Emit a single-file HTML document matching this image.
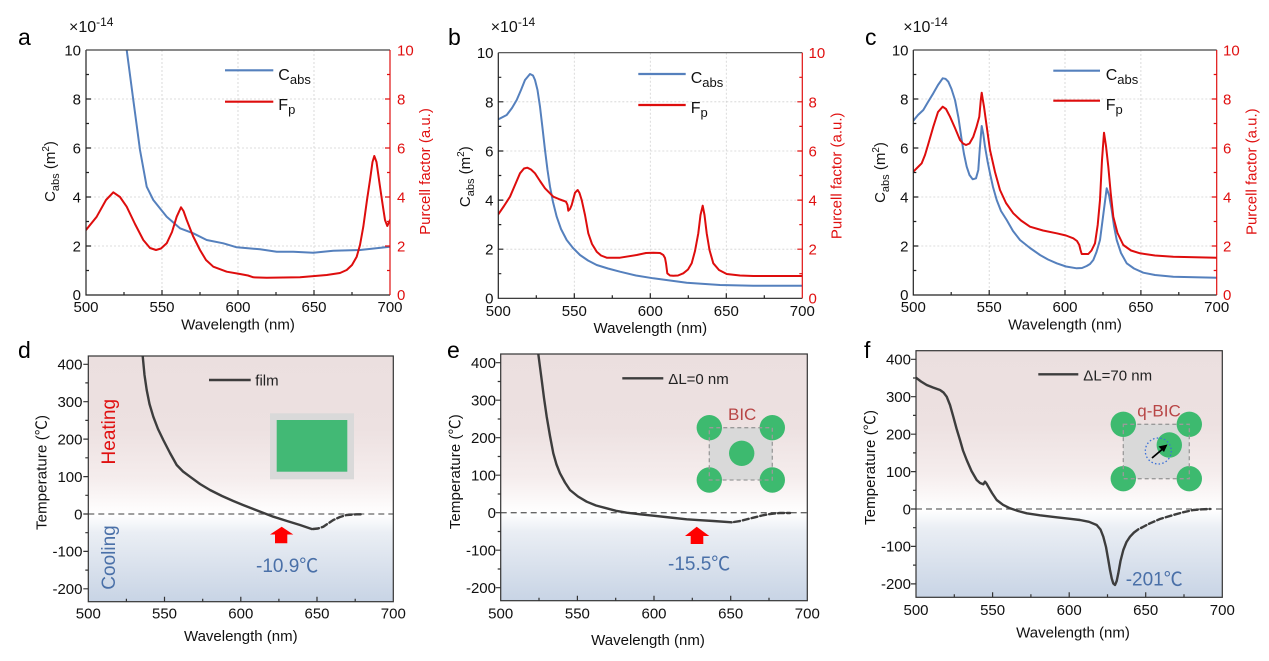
<!DOCTYPE html>
<html><head><meta charset="utf-8"><style>
html,body{margin:0;padding:0;background:#fff;}
svg{display:block;font-family:"Liberation Sans","Noto Sans CJK SC",sans-serif;}
</style></head><body>
<svg width="1269" height="661" viewBox="0 0 1269 661" xmlns="http://www.w3.org/2000/svg">
<defs>
<linearGradient id="bg" x1="0" y1="0" x2="0" y2="1">
<stop offset="0" stop-color="#ebdfdf"/>
<stop offset="0.3" stop-color="#ede1e1"/>
<stop offset="0.5" stop-color="#f5eded"/>
<stop offset="0.63" stop-color="#fefdfd"/>
<stop offset="0.645" stop-color="#ffffff"/>
<stop offset="0.72" stop-color="#eaeef4"/>
<stop offset="1" stop-color="#c8d4e5"/>
</linearGradient>
<clipPath id="ca"><rect x="86" y="50" width="304" height="245"/></clipPath>
<clipPath id="cb"><rect x="498.3" y="52.7" width="304" height="245.6"/></clipPath>
<clipPath id="cc"><rect x="913.3" y="50" width="303.4" height="245"/></clipPath>
<clipPath id="cd"><rect x="88.3" y="356" width="305" height="245.7"/></clipPath>
<clipPath id="ce"><rect x="500.7" y="354" width="306.6" height="246.7"/></clipPath>
<clipPath id="cf"><rect x="916" y="350.7" width="306.3" height="246.6"/></clipPath>
</defs>

<!-- ================= PANEL A ================= -->
<g stroke="#d2d2d2" stroke-width="0.8" stroke-dasharray="2,2" fill="none">
<path d="M162 50V295M238 50V295M314 50V295M86 246H390M86 197H390M86 148H390M86 99H390"/>
</g>
<g fill="none" stroke-linejoin="round" stroke-linecap="round" clip-path="url(#ca)">
<polyline stroke="#5580bd" stroke-width="2" points="126.7,50 133.3,100 140,150 146.7,186.7 153.3,200 166.7,216.7 180,228.3 193.3,233.3 206.7,240 223.3,243.3 236.7,247.3 260,249.3 276.7,251.7 293.3,251.7 313.3,252.7 333.3,250.7 360,250 390,246.7"/>
<polyline stroke="#de0d0d" stroke-width="2" points="86,230 96.7,216.7 106,200 113.3,192.3 120,197 126.7,206.7 135,224 143.3,240 150,248 156,250 161,248.5 166.7,243.3 172,232 176.7,216.7 181,207.3 183.5,211 186.7,220 193,236 200,250 206,260 213.3,266.7 226.7,271.7 240,274 248,275.5 253.3,277.3 266.7,277.7 300,277.3 326.7,275 340,273 346.7,270 352,265 356.7,256.7 360,245 363.3,226.7 367,200 370,180 372.5,162 374.3,156 376.5,162 380,186.7 383,207 385,220 387.3,226 390,220"/>
</g>
<g stroke="#222" stroke-width="1.2" fill="none">
<path d="M86 50V295H390"/>
<path d="M86 50H390" stroke="#444"/>
<path d="M86 246h5M86 197h5M86 148h5M86 99h5M86 270.5h3M86 221.5h3M86 172.5h3M86 123.5h3M86 74.5h3"/>
<path d="M162 295v-5M238 295v-5M314 295v-5M124 295v-3M200 295v-3M276 295v-3M352 295v-3"/>
</g>
<g stroke="#e01010" stroke-width="1.2" fill="none">
<path d="M390 50V295"/>
<path d="M390 246h-5M390 197h-5M390 148h-5M390 99h-5M390 270.5h-3M390 221.5h-3M390 172.5h-3M390 123.5h-3M390 74.5h-3"/>
</g>
<g font-size="15" fill="#111" text-anchor="end">
<text x="81" y="55.5">10</text><text x="81" y="104.5">8</text><text x="81" y="153.5">6</text><text x="81" y="202.5">4</text><text x="81" y="251.5">2</text><text x="81" y="300">0</text>
</g>
<g font-size="15" fill="#e01010">
<text x="397" y="55.5">10</text><text x="397" y="104.5">8</text><text x="397" y="153.5">6</text><text x="397" y="202.5">4</text><text x="397" y="251.5">2</text><text x="397" y="300">0</text>
</g>
<g font-size="15" fill="#111" text-anchor="middle">
<text x="86" y="312">500</text><text x="162" y="312">550</text><text x="238" y="312">600</text><text x="314" y="312">650</text><text x="390" y="312">700</text>
<text x="238" y="329.5">Wavelength (nm)</text>
</g>
<text x="69" y="32" font-size="16" fill="#111">×10<tspan font-size="12" dy="-6">-14</tspan></text>
<text x="18" y="45" font-size="23" fill="#000">a</text>
<text transform="translate(55,171.5) rotate(-90)" font-size="15" fill="#111" text-anchor="middle">C<tspan font-size="11" dy="4">abs</tspan><tspan dy="-4"> (m</tspan><tspan font-size="10" dy="-6">2</tspan><tspan dy="6">)</tspan></text>
<text transform="translate(430,171.5) rotate(-90)" font-size="15" fill="#e01010" text-anchor="middle">Purcell factor (a.u.)</text>
<path d="M225 70.3H273.3" stroke="#5580bd" stroke-width="2.2"/>
<path d="M225 101.7H273.3" stroke="#de0d0d" stroke-width="2.2"/>
<text x="278.3" y="80" font-size="16" fill="#111">C<tspan font-size="13" dy="4">abs</tspan></text>
<text x="278.3" y="110" font-size="16" fill="#111">F<tspan font-size="13" dy="4">p</tspan></text>

<!-- ================= PANEL B ================= -->
<g stroke="#d2d2d2" stroke-width="0.8" stroke-dasharray="2,2" fill="none">
<path d="M574.3 52.7V298.3M650.3 52.7V298.3M726.3 52.7V298.3M498.3 249.2H802.3M498.3 200.1H802.3M498.3 151H802.3M498.3 101.8H802.3"/>
</g>
<g fill="none" stroke-linejoin="round" stroke-linecap="round" clip-path="url(#cb)">
<polyline stroke="#5580bd" stroke-width="2" points="498.3,119.3 506.7,115 512,108 516.7,100 521,90 525,80 530,74 533,75.5 535,80 537.5,90 540,106.7 542.5,128 545,150 547.5,170 550,186.7 553,202 556.7,216.7 561,229 566.7,240 573,248 580,255 588,260.5 596.7,265 608,268.5 620,271.7 636,275.5 653.3,278.3 686.7,282.7 720,285 753.3,285.7 802.3,285.7"/>
<polyline stroke="#de0d0d" stroke-width="2" points="498.3,214.3 504,206 510,196.7 515,185 520,173.3 524,168.5 527.3,167.7 531,169.5 535,173.3 540,181 545,188.3 553.3,196.7 560,199.5 566,201.7 567.5,205 568.3,210.7 570,209 571.7,205 575,192.7 577.7,190 579.5,193 581.7,200 585,215 588.3,233.3 592,244 596.7,251.7 601,255.5 606.7,257.7 620,257.7 636.7,255 646,253 653.3,252.7 660,253 663.3,255 665,258 666,263.3 667.3,273.3 670,275.5 673.3,275.7 678,275.5 683.3,273.3 688,269.5 691.7,263.3 695,251 698.3,233.3 700.5,215 702.7,205.7 704.5,215 706.7,233.3 709.5,250 713.3,263.3 719,270 726.7,274 740,275.5 753.3,276 802.3,276"/>
</g>
<g stroke="#222" stroke-width="1.2" fill="none">
<path d="M498.3 52.7V298.3H802.3"/>
<path d="M498.3 52.7H802.3" stroke="#444"/>
<path d="M498.3 249.2h5M498.3 200.1h5M498.3 151h5M498.3 101.8h5M498.3 273.7h3M498.3 224.6h3M498.3 175.5h3M498.3 126.4h3M498.3 77.3h3"/>
<path d="M574.3 298.3v-5M650.3 298.3v-5M726.3 298.3v-5M536.3 298.3v-3M612.3 298.3v-3M688.3 298.3v-3M764.3 298.3v-3"/>
</g>
<g stroke="#e01010" stroke-width="1.2" fill="none">
<path d="M802.3 52.7V298.3"/>
<path d="M802.3 249.2h-5M802.3 200.1h-5M802.3 151h-5M802.3 101.8h-5M802.3 273.7h-3M802.3 224.6h-3M802.3 175.5h-3M802.3 126.4h-3M802.3 77.3h-3"/>
</g>
<g font-size="15" fill="#111" text-anchor="end">
<text x="493.5" y="58.2">10</text><text x="493.5" y="107.3">8</text><text x="493.5" y="156.4">6</text><text x="493.5" y="205.5">4</text><text x="493.5" y="254.7">2</text><text x="493.5" y="303.3">0</text>
</g>
<g font-size="15" fill="#e01010">
<text x="808.5" y="58.2">10</text><text x="808.5" y="107.3">8</text><text x="808.5" y="156.4">6</text><text x="808.5" y="205.5">4</text><text x="808.5" y="254.7">2</text><text x="808.5" y="303.3">0</text>
</g>
<g font-size="15" fill="#111" text-anchor="middle">
<text x="498.3" y="316">500</text><text x="574.3" y="316">550</text><text x="650.3" y="316">600</text><text x="726.3" y="316">650</text><text x="802.3" y="316">700</text>
<text x="650.3" y="333">Wavelength (nm)</text>
</g>
<text x="490.7" y="32" font-size="16" fill="#111">×10<tspan font-size="12" dy="-6">-14</tspan></text>
<text x="448" y="45" font-size="23" fill="#000">b</text>
<text transform="translate(470,176.7) rotate(-90)" font-size="15" fill="#111" text-anchor="middle">C<tspan font-size="11" dy="4">abs</tspan><tspan dy="-4"> (m</tspan><tspan font-size="10" dy="-6">2</tspan><tspan dy="6">)</tspan></text>
<text transform="translate(841.7,175.8) rotate(-90)" font-size="15" fill="#e01010" text-anchor="middle">Purcell factor (a.u.)</text>
<path d="M638.3 74H685.7" stroke="#5580bd" stroke-width="2.2"/>
<path d="M638.3 105H685.7" stroke="#de0d0d" stroke-width="2.2"/>
<text x="690.7" y="83" font-size="16" fill="#111">C<tspan font-size="13" dy="4">abs</tspan></text>
<text x="690.7" y="113" font-size="16" fill="#111">F<tspan font-size="13" dy="4">p</tspan></text>

<!-- ================= PANEL C ================= -->
<g stroke="#d2d2d2" stroke-width="0.8" stroke-dasharray="2,2" fill="none">
<path d="M989.2 50V295M1065 50V295M1140.9 50V295M913.3 246H1216.7M913.3 197H1216.7M913.3 148H1216.7M913.3 99H1216.7"/>
</g>
<g fill="none" stroke-linejoin="round" stroke-linecap="round" clip-path="url(#cc)">
<polyline stroke="#5580bd" stroke-width="2" points="913.3,120.7 918,115 923.3,110 928,102 933.3,93.3 938,85 942.7,78.3 945.5,78.8 948.3,81.7 951.5,89 955,100 958.5,118 961.7,140 964,154 966.7,166.7 969.5,175 972.7,179.3 976,178.3 978.3,170 979.7,150 981.7,126 983.3,134 985,146.7 987.5,161 990,173.3 993,187 996.7,200 1001,211 1006.7,220 1013,231 1020,240 1030,248 1040,255 1048,259.5 1056.7,263.3 1066,266.5 1076.7,268.3 1082,268 1086.7,266 1090,264 1093.3,260 1096.5,252 1100,240 1103.5,213 1106.7,188.3 1109,195 1111.7,210 1114,226 1116.7,240 1121,253 1126.7,263.3 1134,268.5 1143.3,272.7 1155,275 1173.3,276.7 1216.7,277.7"/>
<polyline stroke="#de0d0d" stroke-width="2" points="913.3,171.7 917,168 921.7,163.3 925,155 928,145 933.3,126.7 938,112 942.7,106.7 946,109 950,116.7 955,128 960,140 963,143.5 966,145 969.5,143.5 973.3,136.7 976.5,127 979.3,116.7 980.8,100 981.7,92.7 982.7,99 984,106.7 986.5,125 990,150 995,172 1000,190 1006,203 1013.3,213.3 1021,220.5 1030,226.7 1043,230.5 1056.7,233.3 1066,235.5 1073.3,238.3 1077,241 1079.3,245 1080.5,250 1081.7,254 1088.3,254 1091.5,250.5 1095,243.3 1097.7,225 1100,200 1102,160 1104,132.7 1106,146 1108.3,166.7 1110.7,193 1113.3,216.7 1117.5,233 1123.3,245 1131,250.5 1140,253.3 1155,255.5 1173.3,256.7 1216.7,257.7"/>
</g>
<g stroke="#222" stroke-width="1.2" fill="none">
<path d="M913.3 50V295H1216.7"/>
<path d="M913.3 50H1216.7" stroke="#444"/>
<path d="M913.3 246h5M913.3 197h5M913.3 148h5M913.3 99h5M913.3 270.5h3M913.3 221.5h3M913.3 172.5h3M913.3 123.5h3M913.3 74.5h3"/>
<path d="M989.2 295v-5M1065 295v-5M1140.9 295v-5M951.2 295v-3M1027.1 295v-3M1103 295v-3M1178.8 295v-3"/>
</g>
<g stroke="#e01010" stroke-width="1.2" fill="none">
<path d="M1216.7 50V295"/>
<path d="M1216.7 246h-5M1216.7 197h-5M1216.7 148h-5M1216.7 99h-5M1216.7 270.5h-3M1216.7 221.5h-3M1216.7 172.5h-3M1216.7 123.5h-3M1216.7 74.5h-3"/>
</g>
<g font-size="15" fill="#111" text-anchor="end">
<text x="908.5" y="55.5">10</text><text x="908.5" y="104.5">8</text><text x="908.5" y="153.5">6</text><text x="908.5" y="202.5">4</text><text x="908.5" y="251.5">2</text><text x="908.5" y="300">0</text>
</g>
<g font-size="15" fill="#e01010">
<text x="1223" y="55.5">10</text><text x="1223" y="104.5">8</text><text x="1223" y="153.5">6</text><text x="1223" y="202.5">4</text><text x="1223" y="251.5">2</text><text x="1223" y="300">0</text>
</g>
<g font-size="15" fill="#111" text-anchor="middle">
<text x="913.3" y="312">500</text><text x="989.2" y="312">550</text><text x="1065" y="312">600</text><text x="1140.9" y="312">650</text><text x="1216.7" y="312">700</text>
<text x="1065" y="329.5">Wavelength (nm)</text>
</g>
<text x="903.3" y="32" font-size="16" fill="#111">×10<tspan font-size="12" dy="-6">-14</tspan></text>
<text x="865" y="45" font-size="23" fill="#000">c</text>
<text transform="translate(885,172.5) rotate(-90)" font-size="15" fill="#111" text-anchor="middle">C<tspan font-size="11" dy="4">abs</tspan><tspan dy="-4"> (m</tspan><tspan font-size="10" dy="-6">2</tspan><tspan dy="6">)</tspan></text>
<text transform="translate(1256.7,171.7) rotate(-90)" font-size="15" fill="#e01010" text-anchor="middle">Purcell factor (a.u.)</text>
<path d="M1053.3 70.7H1100" stroke="#5580bd" stroke-width="2.2"/>
<path d="M1053.3 100.7H1100" stroke="#de0d0d" stroke-width="2.2"/>
<text x="1105.7" y="80" font-size="16" fill="#111">C<tspan font-size="13" dy="4">abs</tspan></text>
<text x="1105.7" y="110" font-size="16" fill="#111">F<tspan font-size="13" dy="4">p</tspan></text>

<!-- ================= PANEL D ================= -->
<rect x="88.3" y="356" width="305" height="245.7" fill="url(#bg)"/>
<path d="M88.3 514H393.3" stroke="#666" stroke-width="1.3" stroke-dasharray="6,4" fill="none"/>
<rect x="270" y="413.3" width="84" height="66" fill="#d9d9d9"/>
<rect x="276.7" y="420" width="70.6" height="51.7" fill="#42b975"/>
<g fill="none" stroke="#3d3d3d" stroke-width="2.4" stroke-linejoin="round" stroke-linecap="round" clip-path="url(#cd)">
<polyline points="142.7,356 144.5,375 146.7,390 149.5,404 153.3,416.7 158,429 163.3,440 170,453 176.7,465 183,471.5 190,476.7 200,484 210,490 222,496 233.3,501 243,505 253.3,509 263,512.8 273.3,516.7 287,521 300,525 311.7,529"/>
<polyline stroke-dasharray="6,3" points="313,529 318,528.5 323.3,526.7 328,523.5 333.3,520 340,517 346.7,515 356.7,514.3 363.3,514.3"/>
</g>
<g stroke="#333" stroke-width="1.2" fill="none">
<rect x="88.3" y="356" width="305" height="245.7"/>
<path d="M88.3 364.3h-5M88.3 401.7h-5M88.3 439.1h-5M88.3 476.6h-5M88.3 514h-5M88.3 551.4h-5M88.3 588.8h-5M88.3 382.9h-3M88.3 420.4h-3M88.3 457.8h-3M88.3 495.3h-3M88.3 532.7h-3M88.3 570.1h-3"/>
<path d="M164.5 601.7v-5M240.8 601.7v-5M317 601.7v-5M126.4 601.7v-3M202.7 601.7v-3M278.9 601.7v-3M355.2 601.7v-3"/>
</g>
<g font-size="15" fill="#111" text-anchor="end">
<text x="82.5" y="369.6">400</text><text x="82.5" y="407">300</text><text x="82.5" y="444.4">200</text><text x="82.5" y="481.9">100</text><text x="82.5" y="519.3">0</text><text x="82.5" y="556.7">-100</text><text x="82.5" y="594.1">-200</text>
</g>
<g font-size="15" fill="#111" text-anchor="middle">
<text x="88.3" y="618.5">500</text><text x="164.5" y="618.5">550</text><text x="240.8" y="618.5">600</text><text x="317" y="618.5">650</text><text x="393.3" y="618.5">700</text>
<text x="240.8" y="641">Wavelength (nm)</text>
</g>
<text transform="translate(46.7,472.5) rotate(-90)" font-size="15" fill="#111" text-anchor="middle" textLength="115" lengthAdjust="spacing">Temperature (℃)</text>
<text x="18" y="358" font-size="23" fill="#000">d</text>
<path d="M209 380H250.7" stroke="#3d3d3d" stroke-width="2.4"/>
<text x="255.3" y="385.5" font-size="15" fill="#222">film</text>
<text transform="translate(115,431.7) rotate(-90)" font-size="19" fill="#e01010" text-anchor="middle">Heating</text>
<text transform="translate(115,557.5) rotate(-90)" font-size="19" fill="#4a70a8" text-anchor="middle">Cooling</text>
<path d="M281.7 526.7L293.3 534.5H287.3V543.3H275V534.5H270Z" fill="#ff0000"/>
<text x="256" y="572" font-size="19" fill="#4a70a8">-10.9℃</text>

<!-- ================= PANEL E ================= -->
<rect x="500.7" y="354" width="306.6" height="246.7" fill="url(#bg)"/>
<path d="M500.7 512.7H807.3" stroke="#666" stroke-width="1.3" stroke-dasharray="6,4" fill="none"/>
<rect x="709.3" y="427.7" width="63" height="52.3" fill="#d9d9d9"/>
<g fill="#3dba6f">
<circle cx="709.3" cy="427.7" r="12.7"/><circle cx="772.3" cy="427.7" r="12.7"/><circle cx="709.3" cy="480" r="12.7"/><circle cx="772.3" cy="480" r="12.7"/><circle cx="741.7" cy="453.3" r="12.7"/>
</g>
<rect x="709.3" y="427.7" width="63" height="52.3" fill="none" stroke="#9a9a9a" stroke-width="1.3" stroke-dasharray="4,3"/>
<text x="728" y="420" font-size="17" fill="#b84646">BIC</text>
<g fill="none" stroke="#3d3d3d" stroke-width="2.4" stroke-linejoin="round" stroke-linecap="round" clip-path="url(#ce)">
<polyline points="538.3,354 540,367 541.7,380 544,398 546.7,416.7 550,436 553.3,453.3 556.5,464.5 560,473.3 565,482.5 570,490 578,496.5 586.7,501.7 596,505.5 606.7,508.3 616,510.8 626.7,512.7 640,514.3 653.3,515.7 670,517.5 686.7,519.3 700,520.2 713.3,521 731.7,522.3"/>
<polyline stroke-dasharray="6,3" points="734,522 740,521 746,519.5 753.3,517.7 762,515.5 770,514 780,513 790,513"/>
</g>
<g stroke="#333" stroke-width="1.2" fill="none">
<rect x="500.7" y="354" width="306.6" height="246.7"/>
<path d="M500.7 362.7h-5M500.7 400.2h-5M500.7 437.7h-5M500.7 475.2h-5M500.7 512.7h-5M500.7 550.2h-5M500.7 587.7h-5M500.7 381.5h-3M500.7 419h-3M500.7 456.5h-3M500.7 494h-3M500.7 531.5h-3M500.7 569h-3"/>
<path d="M577.4 600.7v-5M654 600.7v-5M730.7 600.7v-5M539 600.7v-3M615.7 600.7v-3M692.3 600.7v-3M769 600.7v-3"/>
</g>
<g font-size="15" fill="#111" text-anchor="end">
<text x="496" y="368">400</text><text x="496" y="405.5">300</text><text x="496" y="443">200</text><text x="496" y="480.5">100</text><text x="496" y="518">0</text><text x="496" y="555.5">-100</text><text x="496" y="593">-200</text>
</g>
<g font-size="15" fill="#111" text-anchor="middle">
<text x="500.7" y="618.5">500</text><text x="577.4" y="618.5">550</text><text x="654" y="618.5">600</text><text x="730.7" y="618.5">650</text><text x="807.3" y="618.5">700</text>
<text x="648" y="645">Wavelength (nm)</text>
</g>
<text transform="translate(460,471.7) rotate(-90)" font-size="15" fill="#111" text-anchor="middle" textLength="115" lengthAdjust="spacing">Temperature (℃)</text>
<text x="447" y="358" font-size="23" fill="#000">e</text>
<path d="M622.3 378.3H663.3" stroke="#3d3d3d" stroke-width="2.4"/>
<text x="668.3" y="384" font-size="15" fill="#222">ΔL=0 nm</text>
<path d="M696.7 526.7L709.3 536H703.3V544H690.7V536H685Z" fill="#ff0000"/>
<text x="668" y="570" font-size="19" fill="#4a70a8">-15.5℃</text>

<!-- ================= PANEL F ================= -->
<rect x="916" y="350.7" width="306.3" height="246.6" fill="url(#bg)"/>
<path d="M916 509H1222.3" stroke="#666" stroke-width="1.3" stroke-dasharray="6,4" fill="none"/>
<rect x="1123.3" y="424.3" width="66" height="54.4" fill="#d9d9d9"/>
<g fill="#3dba6f">
<circle cx="1123.3" cy="424.3" r="12.7"/><circle cx="1189.3" cy="424.3" r="12.7"/><circle cx="1123.3" cy="478.7" r="12.7"/><circle cx="1189.3" cy="478.7" r="12.7"/><circle cx="1169.3" cy="445" r="12.7"/>
</g>
<rect x="1123.3" y="424.3" width="66" height="54.4" fill="none" stroke="#9a9a9a" stroke-width="1.3" stroke-dasharray="4,3"/>
<circle cx="1158.3" cy="451" r="13" fill="none" stroke="#3a6fd8" stroke-width="1.3" stroke-dasharray="1.5,2.2"/>
<path d="M1152 458L1165 447" stroke="#000" stroke-width="1.8"/>
<path d="M1167.5 444.5L1158.5 446.5L1164 452Z" fill="#000"/>
<text x="1137.3" y="416.7" font-size="17" fill="#b84646">q-BIC</text>
<g fill="none" stroke="#3d3d3d" stroke-width="2.4" stroke-linejoin="round" stroke-linecap="round" clip-path="url(#cf)">
<polyline points="916,377.7 921,381.5 926.7,385 933,387.5 940,390 943.5,392.5 946.7,396.7 950,405 953.3,416.7 956.5,428.5 960,440 963,450.5 966.7,460 971.5,471 976.7,480 980,483 983.3,484.3 985,481.7 986.5,483.5 988.3,486.7 992,493 996.7,500 1003,504.8 1010,508.3 1018,511 1026.7,513.3 1040,515.3 1056.7,517.3 1070,518.8 1080,520 1089,521.8 1096.7,525 1100.5,529.5 1103.3,536.7 1106,547 1108.3,560 1110,570 1111.7,578.3 1113.3,583.5 1115,585 1116.7,581 1118.3,573.3 1120.5,561 1123.3,550 1126.5,542 1130,536.7 1134,532.5 1138.3,529.3"/>
<polyline stroke-dasharray="6,3" points="1141,528 1150,523.3 1160,519 1173.3,515 1183,512.3 1193.3,510 1202,509.3 1210,509"/>
</g>
<g stroke="#333" stroke-width="1.2" fill="none">
<rect x="916" y="350.7" width="306.3" height="246.6"/>
<path d="M916 359.3h-5M916 396.7h-5M916 434.2h-5M916 471.6h-5M916 509h-5M916 546.4h-5M916 583.9h-5M916 378h-3M916 415.4h-3M916 452.9h-3M916 490.3h-3M916 527.7h-3M916 565.1h-3"/>
<path d="M992.6 597.3v-5M1069.2 597.3v-5M1145.7 597.3v-5M954.3 597.3v-3M1030.9 597.3v-3M1107.5 597.3v-3M1184 597.3v-3"/>
</g>
<g font-size="15" fill="#111" text-anchor="end">
<text x="911" y="364.6">400</text><text x="911" y="402">300</text><text x="911" y="439.5">200</text><text x="911" y="476.9">100</text><text x="911" y="514.3">0</text><text x="911" y="551.7">-100</text><text x="911" y="589.2">-200</text>
</g>
<g font-size="15" fill="#111" text-anchor="middle">
<text x="916" y="615">500</text><text x="992.6" y="615">550</text><text x="1069.2" y="615">600</text><text x="1145.7" y="615">650</text><text x="1222.3" y="615">700</text>
<text x="1073" y="637.7">Wavelength (nm)</text>
</g>
<text transform="translate(875,467.5) rotate(-90)" font-size="15" fill="#111" text-anchor="middle" textLength="115" lengthAdjust="spacing">Temperature (℃)</text>
<text x="864" y="358" font-size="23" fill="#000">f</text>
<path d="M1038.3 374.3H1078.3" stroke="#3d3d3d" stroke-width="2.4"/>
<text x="1083.3" y="380.7" font-size="15" fill="#222">ΔL=70 nm</text>
<text x="1125.7" y="585.5" font-size="19" fill="#4a70a8">-201℃</text>
</svg>
</body></html>
